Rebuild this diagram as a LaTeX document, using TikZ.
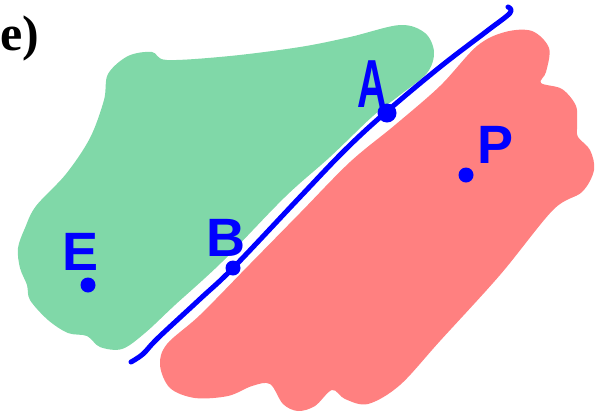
\documentclass[tikz,border=0pt]{standalone}
\usepackage{fontspec}
\newfontfamily\hand{Liberation Sans}
\newfontfamily\lab{Liberation Serif}
\definecolor{greenfill}{RGB}{128,216,168}
\definecolor{redfill}{RGB}{255,128,128}
\definecolor{pen}{RGB}{0,0,255}
\begin{document}
\begin{tikzpicture}[x=1pt,y=-1pt,
  letter/.style={text=pen,font=\hand\bfseries\fontsize{54}{54}\selectfont,inner sep=0pt},
  dot/.style={circle,fill=pen,inner sep=0pt,minimum size=15pt}]
\useasboundingbox (0,0) rectangle (600,416);
% green region
\fill[greenfill] plot[smooth cycle,tension=0.55] coordinates {
 (104,100) (108,74) (128,56) (152,52) (167,60) (230,56) (300,47) (350,37)
 (400,25) (425,33) (434,52) (427,73) (400,95) (373,116) (330,157) (285,197)
 (222,262) (175,305) (145,333) (122,349) (100,347) (87,336) (68,333) (48,320)
 (30,300) (27,285) (20,268) (18,248) (25,228) (36,206) (66,174) (90,138)};
% red region
\fill[redfill] plot[smooth cycle,tension=0.55] coordinates {
 (300,213) (350,162) (395,125) (440,86) (477,46) (505,32) (532,31) (549,48)
 (546,72) (541,83) (562,89) (576,106) (577,126) (578,137) (590,150) (594,170)
 (582,192) (553,210) (500,275) (440,341) (400,385) (368,404) (345,399) (332,390)
 (315,406) (298,411) (283,404) (270,384) (252,386) (228,396) (195,398) (170,388)
 (160,365) (167,344) (200,315) (250,264)};
% blue line
\draw[pen,line width=5pt,line cap=round,line join=round] plot[smooth,tension=0.6] coordinates {
 (131,362) (143,354) (158,338) (200,299) (233,268) (300,197) (345,150)
 (385,113) (440,67) (487,31) (510,13) (508,7)};
% points
\node[dot,minimum width=19pt,minimum height=15pt] (A) at (387,113) {};
\node[dot] (B) at (233,268) {};
\node[dot] (E) at (88,285) {};
\node[dot] (P) at (466,175) {};
% labels
\node[letter,xscale=0.6,font=\hand\bfseries\fontsize{68}{68}\selectfont] (la) at (372,84) {A};
\node[letter] (lb) at (226,238) {B};
\node[letter] (le) at (81,252) {E};
\node[letter] (lp) at (496,145) {P};
\node[font=\lab\bfseries\fontsize{50}{50}\selectfont,inner sep=0pt,anchor=west] (title) at (0,38) {e)};
\end{tikzpicture}
\end{document}
